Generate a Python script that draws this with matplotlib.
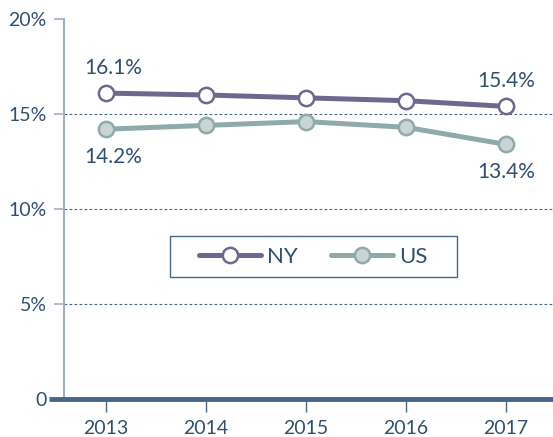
from matplotlib import pyplot as plt
from matplotlib.lines import Line2D
from matplotlib.patches import Rectangle

years = [2013, 2014, 2015, 2016, 2017]
ny_rate = [16.1, 16.0, 15.85, 15.7, 15.4]
us_rate = [14.2, 14.4, 14.6, 14.3, 13.4]
y_ticks = [0, 5, 10, 15, 20]
y_labels = ['0', '5%', '10%', '15%', '20%']

TEXT = '#2f5075'
NY_COL = '#6f6790'
US_COL = '#8eaaab'
US_FILL = '#c9d4d4'
AXIS = '#46678a'
LIGHT = '#9fb0c2'


def main():
    plt.rcParams['font.family'] = ['Lato', 'DejaVu Sans']
    fig = plt.figure(figsize=(5.53, 4.37), dpi=100)
    ax = fig.add_axes([64 / 553, 38 / 437, 489 / 553, 380 / 437])

    ax.plot(years, ny_rate, color=NY_COL, lw=3.6, marker='o', ms=11,
            mfc='white', mec=NY_COL, mew=1.8, zorder=4, solid_capstyle='round')
    ax.plot(years, us_rate, color=US_COL, lw=3.6, marker='o', ms=11,
            mfc=US_FILL, mec=US_COL, mew=1.8, zorder=4, solid_capstyle='round')

    ax.set_xlim(2012.58, 2017.47)
    ax.set_ylim(0, 20)

    for y in y_ticks[1:-1]:
        ax.axhline(y, color=AXIS, lw=0.8, ls=(0, (2.5, 2)), zorder=1)

    for sp in ['top', 'right', 'bottom']:
        ax.spines[sp].set_visible(False)
    ax.spines['left'].set_color(LIGHT)
    ax.spines['left'].set_linewidth(1.5)
    # thick base line, reaching past the y axis
    ax.plot([-0.03, 1.0], [0, 0], transform=ax.transAxes, color=AXIS,
            lw=3.5, clip_on=False, zorder=5, solid_capstyle='butt')

    ax.set_yticks(y_ticks)
    ax.set_yticklabels(y_labels)
    ax.tick_params(axis='y', length=7.5, width=1.2, color=LIGHT, pad=5,
                   labelsize=14, labelcolor=TEXT)
    ax.set_xticks(years)
    ax.tick_params(axis='x', length=9, width=1, color=AXIS, pad=6,
                   labelsize=14, labelcolor=TEXT)

    # data labels at the ends
    kw = dict(textcoords='offset points', ha='center', fontsize=15, color=TEXT)
    ax.annotate('16.1%', (years[0], ny_rate[0]), xytext=(5, 11),
                va='bottom', **kw)
    ax.annotate('14.2%', (years[0], us_rate[0]), xytext=(5, -13),
                va='top', **kw)
    ax.annotate('15.4%', (years[-1], ny_rate[-1]), xytext=(0, 11),
                va='bottom', **kw)
    ax.annotate('13.4%', (years[-1], us_rate[-1]), xytext=(0, -13),
                va='top', **kw)

    handles = [
        Line2D([], [], color=NY_COL, lw=3.6, marker='o', ms=11, mfc='white',
               mec=NY_COL, mew=1.8, solid_capstyle='round'),
        Line2D([], [], color=US_COL, lw=3.6, marker='o', ms=11, mfc=US_FILL,
               mec=US_COL, mew=1.8, solid_capstyle='round'),
    ]
    fig.legend(handles, ['NY', 'US'], ncol=2, loc='center',
               bbox_to_anchor=(313 / 553, 1 - 257 / 437),
               fontsize=16, frameon=False,
               handlelength=2.8, handletextpad=0.25, columnspacing=1.5,
               labelcolor=TEXT)
    fig.patches.append(Rectangle((170 / 553, 1 - 277 / 437), 287 / 553,
                                 41 / 437, transform=fig.transFigure,
                                 fill=False, ec=AXIS, lw=1.0))

    plt.savefig('out.png', dpi=100)


if __name__ == "__main__":
    main()
